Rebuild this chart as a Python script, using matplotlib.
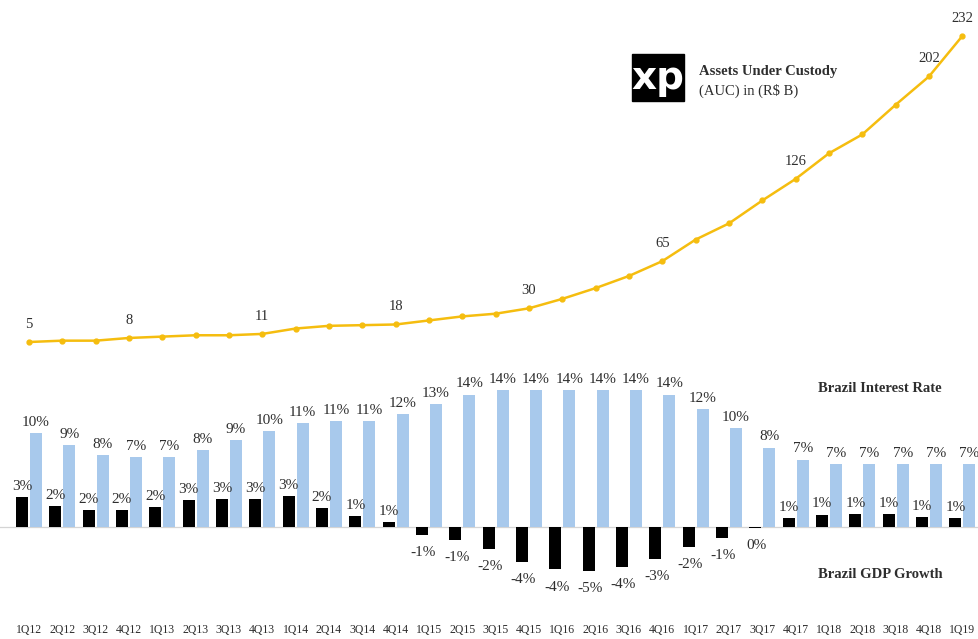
import math
import matplotlib
matplotlib.use("Agg")
import matplotlib.pyplot as plt
from matplotlib.patches import Rectangle

plt.rcParams['font.family'] = ['Liberation Serif', 'DejaVu Serif']

quarters = ["1Q12", "2Q12", "3Q12", "4Q12", "1Q13", "2Q13", "3Q13", "4Q13",
            "1Q14", "2Q14", "3Q14", "4Q14", "1Q15", "2Q15", "3Q15", "4Q15",
            "1Q16", "2Q16", "3Q16", "4Q16", "1Q17", "2Q17", "3Q17", "4Q17",
            "1Q18", "2Q18", "3Q18", "4Q18", "1Q19"]

# Assets under custody, R$ billions
auc = [5, 6, 6, 8, 9, 10, 10, 11, 15, 17, 17.5, 18, 21, 24, 26, 30,
       37, 45, 54, 65, 81, 93, 110, 126, 145, 159, 181, 202, 232]
auc_labeled = ["1Q12", "4Q12", "4Q13", "4Q14", "4Q15", "4Q16", "4Q17", "4Q18", "1Q19"]

# Selic rate, % at quarter end
interest = [9.75, 8.5, 7.5, 7.25, 7.25, 8.0, 9.0, 10.0, 10.75, 11.0, 11.0, 11.75,
            12.75, 13.75, 14.25, 14.25, 14.25, 14.25, 14.25, 13.75, 12.25, 10.25,
            8.25, 7.0, 6.5, 6.5, 6.5, 6.5, 6.5]

# GDP growth, %
gdp = [3.1, 2.2, 1.8, 1.8, 2.1, 2.8, 2.9, 2.9, 3.2, 2.0, 1.1, 0.5, -0.8, -1.3,
       -2.3, -3.6, -4.4, -4.6, -4.15, -3.35, -2.1, -1.1, -0.1, 0.97, 1.3, 1.35,
       1.35, 1.0, 0.9]

W, H = 979, 639
GOLD = "#F5BD0F"
BLUE = "#A8C9EC"
TXT = "#2e2e2e"


def pct(v):
    r = math.floor(abs(v) + 0.5)
    sign = "-" if (v < 0 and r) else ""
    return f"{sign}{r}%"


def fig_rect(top_px, bottom_px):
    return [0, 1 - bottom_px / H, 1, (bottom_px - top_px) / H]


fig = plt.figure(figsize=(W / 100, H / 100), dpi=100)
x = list(range(len(quarters)))
xlim = (-0.87, 28.5)

# --- AUC line ---
ax_l = fig.add_axes(fig_rect(10, 350))
ax_l.plot(x, auc, color=GOLD, lw=1.8, marker="o", ms=3.5, mfc=GOLD, mec=GOLD)
for q in auc_labeled:
    i = quarters.index(q)
    ax_l.annotate(f"{auc[i]:g}", (i, auc[i]), xytext=(0, 8), textcoords="offset points",
                  ha="center", va="bottom", fontsize=10.5, color=TXT)
ax_l.set_xlim(*xlim)
ax_l.set_ylim(-0.93, 251.3)
ax_l.axis("off")

# --- Interest rate and GDP bars ---
ax_b = fig.add_axes(fig_rect(370, 600))
bw = 0.36
off = 0.21
ax_b.bar([i - off for i in x], gdp, width=bw, color="black", zorder=3)
ax_b.bar([i + off for i in x], interest, width=bw, color=BLUE, zorder=3)
ax_b.axhline(0, color="#d4d4d4", lw=0.9, zorder=2)
for i in x:
    ax_b.annotate(pct(interest[i]), (i + off, interest[i]), xytext=(0, 3),
                  textcoords="offset points", ha="center", va="bottom",
                  fontsize=11, color=TXT)
    g = gdp[i]
    if g >= 0:
        ax_b.annotate(pct(g), (i - off, g), xytext=(0, 3), textcoords="offset points",
                      ha="center", va="bottom", fontsize=11, color=TXT)
    else:
        ax_b.annotate(pct(g), (i - off, g), xytext=(1, -8), textcoords="offset points",
                      ha="center", va="top", fontsize=11, color=TXT)
ax_b.set_xlim(*xlim)
ax_b.set_ylim(-7.57, 16.3)
ax_b.set_xticks(x)
ax_b.set_xticklabels(quarters, fontsize=8.5, color=TXT)
ax_b.tick_params(axis="x", length=0, pad=17)
ax_b.set_yticks([])
for s in ax_b.spines.values():
    s.set_visible(False)

fig.text(818 / W, 1 - 388 / H, "Brazil Interest Rate", fontsize=10.5,
         fontweight="bold", color=TXT, ha="left", va="center")
fig.text(818 / W, 1 - 574 / H, "Brazil GDP Growth", fontsize=10.5,
         fontweight="bold", color=TXT, ha="left", va="center")

# --- XP badge and AUC caption ---
fig.patches.append(Rectangle((632 / W, 1 - 101 / H), 52 / W, 47 / H,
                             transform=fig.transFigure, color="black", zorder=5))
fig.text(658 / W, 1 - 78 / H, "xp", fontsize=28, fontweight="heavy",
         family="DejaVu Sans", color="white", ha="center", va="center", zorder=6)
fig.text(699 / W, 1 - 72 / H, "Assets Under Custody", fontsize=10.5,
         fontweight="bold", color=TXT, ha="left", va="center")
fig.text(699 / W, 1 - 91 / H, "(AUC) in (R$ B)", fontsize=10.5,
         color=TXT, ha="left", va="center")

fig.savefig("out.png", dpi=100, facecolor="white")
